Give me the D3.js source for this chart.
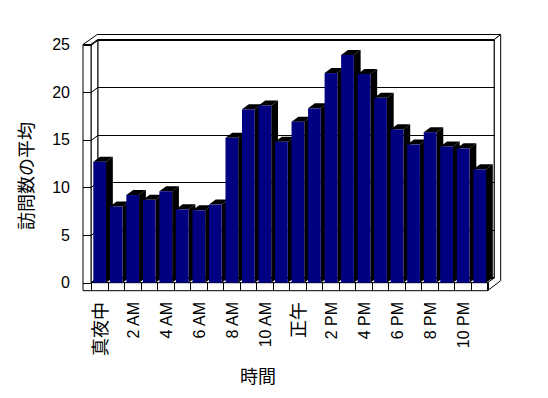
<!DOCTYPE html>
<html><head><meta charset="utf-8">
<script src="https://cdn.jsdelivr.net/npm/d3@7"></script>
<style>
html,body{margin:0;padding:0;background:#fff;}
svg{display:block;}
</style></head>
<body><svg id="c" width="548" height="398"></svg>
<script>
// ---- data ----
const categories = ["真夜中","1 AM","2 AM","3 AM","4 AM","5 AM","6 AM","7 AM","8 AM","9 AM","10 AM","11 AM",
                    "正午","1 PM","2 PM","3 PM","4 PM","5 PM","6 PM","7 PM","8 PM","9 PM","10 PM","11 PM"];
const values = [12.7, 8.0, 9.2, 8.7, 9.6, 7.7, 7.6, 8.2, 15.2, 18.2, 18.6, 14.8,
                16.9, 18.3, 22.0, 23.9, 21.9, 19.4, 16.1, 14.5, 15.8, 14.3, 14.1, 11.9];
const shownLabels = ["真夜中","2 AM","4 AM","6 AM","8 AM","10 AM","正午","2 PM","4 PM","6 PM","8 PM","10 PM"];
const yTicks = [0, 5, 10, 15, 20, 25];
const yTitle = "訪問数の平均";
const xTitle = "時間";

// ---- layout ----
const svg = d3.select("#c");
const X0 = 91, X1 = 487.5, WALL = 8;
const x = d3.scaleBand().domain(d3.range(categories.length)).range([X0, X1]).padding(0);
const y = d3.scaleLinear().domain([0, 25]).range([282.7, 44.5]);
const D = [6.8, -5];      // depth to back wall inner face
const O = [13.2, -10];    // depth to outer face
const y0 = y(0), yT = y(25);
const latin = "'Liberation Sans', Arial, sans-serif";
const cjk = "'Noto Sans CJK JP', 'Liberation Sans', sans-serif";

const line = (pts) => "M" + pts.map(p => p.join(",")).join("L");
const poly = (pts) => line(pts) + "Z";
const frame = svg.append("g").attr("fill", "#fff").attr("stroke", "#000").attr("stroke-width", 1);

// back wall inner face
frame.append("path").attr("d", poly([[X0+D[0], yT+D[1]], [X1+D[0], yT+D[1]], [X1+D[0], y0+D[1]], [X0+D[0], y0+D[1]]]));
// top surface (left wall + back wall)
frame.append("path").attr("d", poly([[X0-WALL, yT], [X0, yT], [X0+D[0], yT+D[1]], [X1+D[0], yT+D[1]],
                                     [X1+O[0], yT+O[1]], [X0-WALL+O[0]+1, yT+O[1]]]));
// right side (back wall + floor)
frame.append("path").attr("d", poly([[X1, y0], [X1+D[0], y0+D[1]], [X1+D[0], yT+D[1]], [X1+O[0], yT+O[1]],
                                     [X1+O[0], y0+WALL+O[1]], [X1, y0+WALL]]));
// left wall inner face
frame.append("path").attr("d", poly([[X0, yT], [X0+D[0], yT+D[1]], [X0+D[0], y0+D[1]], [X0, y0]]));
// floor top
frame.append("path").attr("d", poly([[X0, y0], [X1, y0], [X1+D[0], y0+D[1]], [X0+D[0], y0+D[1]]]));
// left wall front face + floor front face
frame.append("path").attr("d", poly([[X0-WALL, yT], [X0, yT], [X0, y0], [X1, y0], [X1, y0+WALL], [X0-WALL, y0+WALL]]));

// gridlines + ticks
const grid = svg.append("g").attr("stroke", "#000").attr("fill", "none").attr("stroke-width", 1);
yTicks.forEach(v => {
  const yy = Math.round(y(v)) + 0.5;
  grid.append("path").attr("d", line([[X0-WALL, yy], [X0, yy], [X0+D[0], yy+D[1]], [X1+D[0], yy+D[1]]]));
});
// category ticks on floor front face
d3.range(categories.length + 1).forEach(i => {
  const xx = Math.round(X0 + i * x.step()) + 0.5;
  grid.append("line").attr("x1", xx).attr("x2", xx).attr("y1", y0).attr("y2", y0 + WALL);
});

// bars
const bw = x.bandwidth() * 0.77, boff = x.bandwidth() * 0.14;
const bars = svg.append("g");
values.forEach((v, i) => {
  const xa = x(i) + boff, xb = xa + bw, yt = y(v);
  const g = bars.append("g");
  g.append("path").attr("fill", "#000").attr("d", poly([[xb, yt], [xb+D[0], yt+D[1]], [xb+D[0], y0+D[1]], [xb, y0]]));
  g.append("path").attr("fill", "#000").attr("d", poly([[xa, yt], [xb, yt], [xb+D[0], yt+D[1]], [xa+D[0], yt+D[1]]]));
  g.append("rect").attr("x", xa).attr("y", yt).attr("width", bw).attr("height", y0 - yt).attr("fill", "#000080");
});

// y tick labels
svg.append("g").selectAll("text").data(yTicks).join("text")
  .attr("x", 70).attr("y", d => y(d)).attr("dy", "0.35em")
  .attr("text-anchor", "end").attr("font-family", latin).attr("font-size", 16).attr("fill", "#000")
  .text(d => d);

// x labels (every other category)
svg.append("g").selectAll("text").data(shownLabels).join("text")
  .attr("transform", d => {
    const i = categories.indexOf(d);
    return `translate(${x(i) + x.bandwidth()/2 + 1},302) rotate(-90)`;
  })
  .attr("text-anchor", "end").attr("dy", "0.35em")
  .attr("font-family", d => /[A-Z0-9]/.test(d) ? latin : cjk)
  .attr("font-size", d => /[A-Z0-9]/.test(d) ? 16 : 18)
  .attr("fill", "#000").text(d => d);

// axis titles
svg.append("text").attr("transform", "translate(27,176) rotate(-90)")
  .attr("text-anchor", "middle").attr("dy", "0.35em")
  .attr("font-family", cjk).attr("font-size", 18).text(yTitle);
svg.append("text").attr("x", 258).attr("y", 377).attr("dy", "0.35em")
  .attr("text-anchor", "middle").attr("font-family", cjk).attr("font-size", 18).text(xTitle);
</script>
</body></html>
